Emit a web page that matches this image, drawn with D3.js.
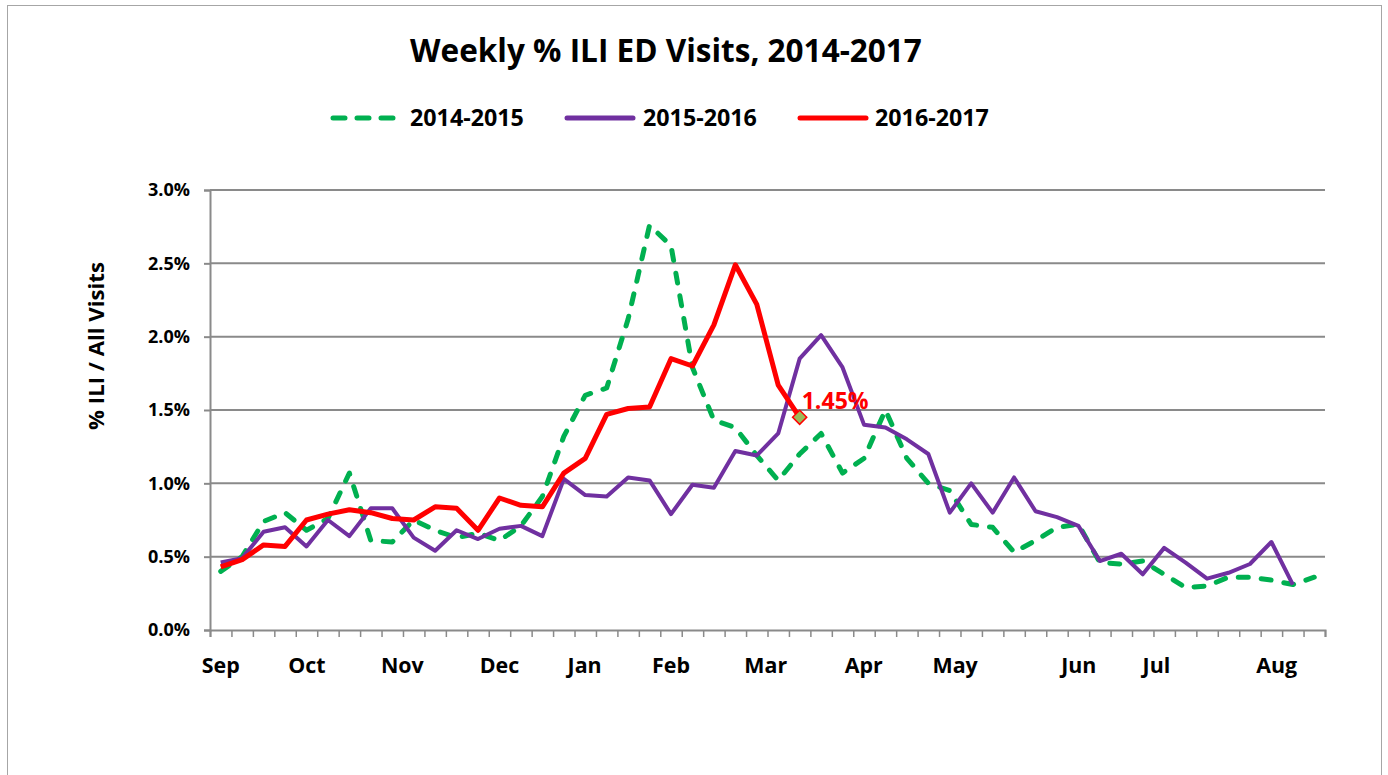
<!DOCTYPE html>
<html><head><meta charset="utf-8">
<script src="https://cdn.jsdelivr.net/npm/d3@7"></script>
<style>body{margin:0;background:#fff}</style>
</head><body>
<svg id="chart" width="1388" height="775"></svg>
<script>
// ---------- data ----------
const weekCount = 52;
const series2014 = [0.40,0.50,0.74,0.80,0.68,0.76,1.07,0.61,0.60,0.75,0.68,0.63,0.66,0.61,0.71,0.91,1.32,1.60,1.65,2.12,2.76,2.62,1.79,1.43,1.38,1.19,1.02,1.20,1.34,1.07,1.17,1.50,1.17,1.00,0.95,0.72,0.70,0.53,0.61,0.70,0.72,0.46,0.45,0.47,0.38,0.29,0.30,0.36,0.36,0.34,0.31,0.36];
const series2015 = [0.46,0.49,0.67,0.70,0.57,0.75,0.64,0.83,0.83,0.63,0.54,0.68,0.62,0.69,0.71,0.64,1.03,0.92,0.91,1.04,1.02,0.79,0.99,0.97,1.22,1.19,1.34,1.85,2.01,1.79,1.40,1.38,1.30,1.20,0.80,1.00,0.80,1.04,0.81,0.77,0.71,0.47,0.52,0.38,0.56,0.46,0.35,0.39,0.45,0.60,0.31];
const series2016 = [0.43,0.48,0.58,0.57,0.75,0.79,0.82,0.80,0.76,0.75,0.84,0.83,0.68,0.90,0.85,0.84,1.07,1.17,1.47,1.51,1.52,1.85,1.80,2.08,2.49,2.22,1.67,1.45];
const seriesNames = ["2014-2015", "2015-2016", "2016-2017"];
const monthLabels = ["Sep","Oct","Nov","Dec","Jan","Feb","Mar","Apr","May","Jun","Jul","Aug"];
const monthWeek = [0, 4.02, 8.47, 13.0, 16.97, 21.0, 25.42, 29.99, 34.25, 40.02, 43.64, 49.25];
const yTickValues = [0, 0.5, 1.0, 1.5, 2.0, 2.5, 3.0];
const titleText = "Weekly % ILI ED Visits, 2014-2017";
const yTitleText = "% ILI / All Visits";

// ---------- setup ----------
const FONT = "'Open Sans', 'Liberation Sans', sans-serif";
const svg = d3.select("#chart");
const gridColor = "#8a8a8a";
const colors = ["#00B050", "#7030A0", "#FF0000"];
const widths = [5, 4, 5];

svg.append("rect").attr("x",0).attr("y",0).attr("width",1388).attr("height",775).attr("fill","#fff");
svg.append("rect").attr("x",7.5).attr("y",5.5).attr("width",1374).attr("height",800)
  .attr("fill","none").attr("stroke","#a6a6a6").attr("stroke-width",1);

const plotL = 210, plotR = 1325, plotT = 190, plotB = 630;
const xb = d3.scaleLinear().domain([0, weekCount]).range([plotL, plotR]);
const xc = i => xb(i + 0.5);
const y = d3.scaleLinear().domain([0, 3]).range([plotB, plotT]);

function fitSize(node, fs, target) {
  return fs * target / node.getComputedTextLength();
}
function fit(sel, target) {
  const fs = parseFloat(sel.attr("font-size"));
  sel.attr("font-size", fitSize(sel.node(), fs, target));
  return sel;
}

// gridlines
svg.append("g").selectAll("line").data(yTickValues.filter(v => v > 0)).join("line")
  .attr("x1", plotL).attr("x2", plotR).attr("y1", d => y(d)).attr("y2", d => y(d))
  .attr("stroke", gridColor).attr("stroke-width", 2);

// y axis
const yAxis = d3.axisLeft(y).tickValues(yTickValues).tickSize(6).tickPadding(14)
  .tickFormat(d => d.toFixed(1) + "%");
const gy = svg.append("g").attr("transform", `translate(${plotL},0)`).call(yAxis);
gy.select(".domain").attr("stroke", gridColor).attr("stroke-width", 2);
gy.selectAll(".tick line").attr("stroke", gridColor).attr("stroke-width", 2);
const yLabels = gy.selectAll(".tick text").attr("font-family", FONT).attr("font-weight", 700)
  .attr("font-size", 15).attr("fill", "#000");
const yfs = fitSize(yLabels.nodes()[yLabels.size() - 1], 15, 42);
yLabels.attr("font-size", yfs);

// x axis (category boundaries)
const xAxis = d3.axisBottom(xb).tickValues(d3.range(0, weekCount + 1)).tickSize(7).tickFormat("");
const gx = svg.append("g").attr("transform", `translate(0,${plotB})`).call(xAxis);
gx.select(".domain").attr("stroke", gridColor).attr("stroke-width", 2);
gx.selectAll(".tick line").attr("stroke", gridColor).attr("stroke-width", 1.5);

// month labels
const mLabels = svg.append("g").selectAll("text").data(monthLabels).join("text")
  .attr("x", (d, i) => xb(monthWeek[i] + 0.5)).attr("y", 673)
  .attr("text-anchor", "middle").attr("font-family", FONT).attr("font-weight", 700)
  .attr("font-size", 19).attr("fill", "#000").text(d => d);
const mfs = fitSize(mLabels.nodes()[0], 19, 38);
mLabels.attr("font-size", mfs);

// y title
const yt = svg.append("text").attr("transform", "translate(104,346) rotate(-90)")
  .attr("text-anchor", "middle").attr("font-family", FONT).attr("font-weight", 700)
  .attr("font-size", 19).attr("fill", "#000").text(yTitleText);
fit(yt, 168);

// title
const tt = svg.append("text").attr("x", 666).attr("y", 62).attr("text-anchor", "middle")
  .attr("font-family", FONT).attr("font-weight", 700).attr("font-size", 27).attr("fill", "#000")
  .text(titleText);
fit(tt, 512);

// lines
const line = d3.line().x((d, i) => xc(i)).y(d => y(d)).curve(d3.curveLinear);
const allSeries = [series2014, series2015, series2016];
allSeries.forEach((s, k) => {
  svg.append("path").datum(s).attr("d", line).attr("fill", "none")
    .attr("stroke", colors[k]).attr("stroke-width", widths[k])
    .attr("stroke-linejoin", "round").attr("stroke-linecap", k === 0 ? "round" : "butt")
    .attr("stroke-dasharray", k === 0 ? "10,13" : null);
});

// last point marker + label
const li = series2016.length - 1;
const lv = series2016[li];
svg.append("rect").attr("x", -5).attr("y", -5).attr("width", 10).attr("height", 10)
  .attr("transform", `translate(${xc(li)},${y(lv)}) rotate(45)`)
  .attr("fill", "#9BBB59").attr("stroke", "#FF0000").attr("stroke-width", 1.5);
const lbl = svg.append("text").attr("x", xc(li) + 2).attr("y", y(lv) - 8)
  .attr("font-family", FONT).attr("font-weight", 700).attr("font-size", 19).attr("fill", "#FF0000")
  .text(lv.toFixed(2) + "%");
fit(lbl, 67);

// legend
const legendLine = [[333, 400], [567, 633], [800, 866]];
const legendText = [410, 643, 875];
seriesNames.forEach((n, k) => {
  svg.append("line").attr("x1", legendLine[k][0]).attr("x2", legendLine[k][1])
    .attr("y1", 118).attr("y2", 118).attr("stroke", colors[k]).attr("stroke-width", 5)
    .attr("stroke-linecap", "round").attr("stroke-dasharray", k === 0 ? "12,12" : null);
  const t = svg.append("text").attr("x", legendText[k]).attr("y", 126)
    .attr("font-family", FONT).attr("font-weight", 700).attr("font-size", 20).attr("fill", "#000").text(n);
  fit(t, 114);
});
</script>
</body></html>
